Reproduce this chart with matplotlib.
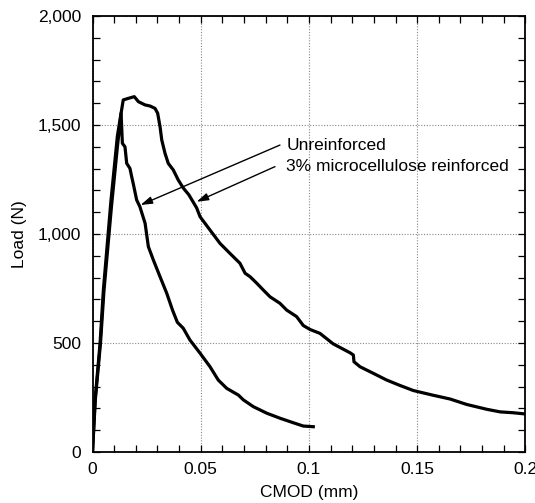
import matplotlib
matplotlib.use("Agg")
import matplotlib.pyplot as plt
from matplotlib.ticker import MultipleLocator, FuncFormatter

# Data (CMOD in mm, Load in N)
unrein_x = [0, 0.0013, 0.0037, 0.0053, 0.0088, 0.0115, 0.0132, 0.0138, 0.0150, 0.0158,
            0.0173, 0.0181, 0.0188, 0.0204, 0.0219, 0.0243, 0.0258, 0.0281, 0.0312,
            0.0343, 0.0370, 0.0392, 0.0419, 0.0450, 0.0497, 0.0543, 0.0581, 0.0620,
            0.0674, 0.0697, 0.0743, 0.0805, 0.0866, 0.0928, 0.0974, 0.1020]
unrein_y = [0, 240, 500, 740, 1130, 1400, 1554, 1416, 1400, 1324,
            1301, 1263, 1232, 1156, 1125, 1049, 942, 881, 804,
            728, 650, 595, 568, 514, 453, 391, 330, 292,
            261, 239, 208, 178, 155, 134, 119, 116]

rein_x = [0, 0.0012, 0.0035, 0.0050, 0.0085, 0.0115, 0.0142, 0.0165, 0.0193, 0.0212,
          0.0243, 0.0266, 0.0289, 0.0301, 0.0312, 0.0320, 0.0335, 0.0350, 0.0373,
          0.0396, 0.0420, 0.0445, 0.0481, 0.0497, 0.0543, 0.0589, 0.0604, 0.0635,
          0.0681, 0.0705, 0.0728, 0.0759, 0.0789, 0.0820, 0.0866, 0.0897, 0.0943,
          0.0974, 0.1005, 0.1051, 0.1112, 0.1190, 0.1205, 0.1208, 0.1236, 0.1297,
          0.1359, 0.1421, 0.1482, 0.1575, 0.1652, 0.1729, 0.1821, 0.1883, 0.1944, 0.2003]
rein_y = [0, 240, 500, 740, 1150, 1450, 1615, 1622, 1630, 1607,
          1592, 1587, 1576, 1554, 1492, 1431, 1370, 1324, 1294,
          1248, 1210, 1180, 1120, 1079, 1018, 957, 942, 911,
          866, 820, 804, 774, 743, 712, 682, 651, 621,
          580, 562, 544, 496, 455, 445, 414, 391, 361,
          330, 305, 282, 260, 243, 218, 196, 184, 180, 174]

labels = ["Unreinforced", "3% microcellulose reinforced"]
x_ticks = [0, 0.05, 0.1, 0.15, 0.2]
x_ticklabels = ["0", "0.05", "0.1", "0.15", "0.2"]
y_ticks = [0, 500, 1000, 1500, 2000]

plt.rcParams['font.family'] = ['Liberation Sans', 'DejaVu Sans']
FS = 12.5

fig = plt.figure(figsize=(5.35, 5.03), dpi=100)
ax = fig.add_axes([0.1729, 0.1014, 0.8092, 0.8668])

ax.plot(unrein_x, unrein_y, color='black', lw=2.3, solid_joinstyle='round')
ax.plot(rein_x, rein_y, color='black', lw=2.3, solid_joinstyle='round')

ax.set_xlim(0, 0.2)
ax.set_ylim(0, 2000)
ax.set_xticks(x_ticks)
ax.set_xticklabels(x_ticklabels)
ax.set_yticks(y_ticks)
ax.yaxis.set_major_formatter(FuncFormatter(lambda v, p: f"{int(v):,}"))
ax.xaxis.set_minor_locator(MultipleLocator(0.01))
ax.yaxis.set_minor_locator(MultipleLocator(100))
ax.tick_params(which='both', direction='in', top=True, right=True, labelsize=FS,
               colors='black', width=0.9)
ax.tick_params(which='major', length=5)
ax.tick_params(which='minor', length=5)
ax.tick_params(axis='x', which='major', pad=7)
ax.tick_params(axis='y', which='major', pad=8)
for s in ax.spines.values():
    s.set_linewidth(1.3)
ax.grid(True, which='major', linestyle=(0, (1, 1.5)), color='#888888', linewidth=0.8)

ax.set_xlabel("CMOD (mm)", fontsize=FS, labelpad=6)
ax.set_ylabel("Load (N)", fontsize=FS, labelpad=8)

# Annotations
ax.text(0.0896, 1408, labels[0], fontsize=FS, va='center', ha='left')
ax.text(0.0896, 1309, labels[1], fontsize=FS, va='center', ha='left')
arrow_kw = dict(arrowstyle='-|>,head_length=0.7,head_width=0.22', color='black', lw=1.0,
                shrinkA=0, shrinkB=0)
ax.annotate("", xy=(0.0222, 1133), xytext=(0.0866, 1408), arrowprops=arrow_kw)
ax.annotate("", xy=(0.0481, 1148), xytext=(0.0843, 1309), arrowprops=arrow_kw)

fig.savefig("out.png", dpi=100)
